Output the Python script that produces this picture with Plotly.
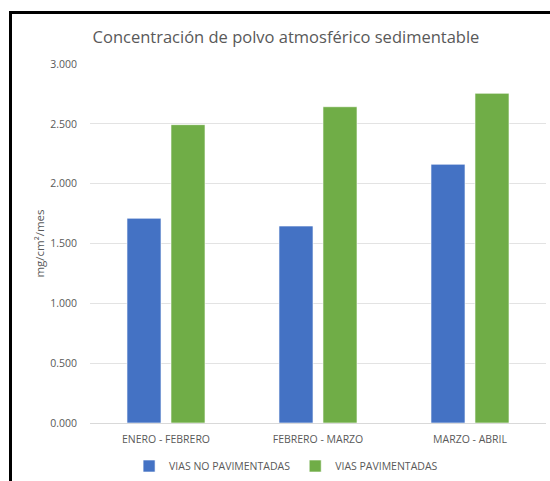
import plotly.graph_objects as go

# Periods sampled and dust concentration (mg/cm²/mes) per road type
periodos = ["ENERO - FEBRERO", "FEBRERO - MARZO", "MARZO - ABRIL"]
vias_no_pavimentadas = [1.711, 1.646, 2.162]
vias_pavimentadas = [2.493, 2.643, 2.755]
ticks_y = [0, 0.5, 1.0, 1.5, 2.0, 2.5, 3.0]

FONT = "Open Sans"
GREY = "#595959"

# Plot-area geometry in pixels (used for the frame lines in paper units)
L, R, T, B = 90, 4, 64, 58
W, H = 550, 481
PW, PH = W - L - R, H - T - B


def px_x(x):
    return (x - L) / PW


def px_y(y):
    return (H - B - y) / PH


fig = go.Figure()
fig.add_trace(go.Bar(
    x=periodos, y=vias_no_pavimentadas, name="VIAS NO PAVIMENTADAS",
    marker=dict(color="#4472C4", line=dict(color="rgba(255,255,255,0.6)", width=1)),
))
fig.add_trace(go.Bar(
    x=periodos, y=vias_pavimentadas, name="VIAS PAVIMENTADAS",
    marker=dict(color="#70AD47", line=dict(color="rgba(255,255,255,0.6)", width=1)),
))

fig.update_layout(
    width=W, height=H,
    margin=dict(l=L, r=R, t=T, b=B, autoexpand=False),
    paper_bgcolor="white", plot_bgcolor="white",
    barmode="group", bargap=0.421, bargroupgap=0.227,
    font=dict(family=FONT, color=GREY, size=11),
    title=dict(
        text="Concentración de polvo atmosférico sedimentable",
        x=0.52, xanchor="center", y=0.922, yanchor="middle",
        font=dict(family=FONT, size=16.5, color=GREY),
    ),
    legend=dict(
        orientation="h", x=0.43, xanchor="center",
        y=px_y(466), yanchor="middle",
        font=dict(family=FONT, size=10.5, color=GREY),
        itemwidth=30, traceorder="normal",
    ),
    showlegend=True,
)

fig.update_yaxes(
    range=[0, 3.0], tickvals=ticks_y, tickformat=".3f",
    showgrid=True, gridcolor="#E3E3E3", gridwidth=1,
    zeroline=False, showline=False, ticks="", ticklabelstandoff=12,
    tickfont=dict(family=FONT, size=10.5, color=GREY),
    title=dict(text="mg/cm²/mes", standoff=3, font=dict(family=FONT, size=11.5, color=GREY)),
    automargin=False,
)
fig.update_xaxes(
    showline=True, linecolor="#D9D9D9", linewidth=1, ticks="",
    tickfont=dict(family=FONT, size=10.5, color=GREY), ticklabelstandoff=6,
    automargin=False,
)

# Black frame along the top and left edges
fig.add_shape(type="line", xref="paper", yref="paper",
              x0=px_x(9), x1=px_x(552), y0=px_y(12.5), y1=px_y(12.5),
              line=dict(color="black", width=3))
fig.add_shape(type="line", xref="paper", yref="paper",
              x0=px_x(10.5), x1=px_x(10.5), y0=px_y(11), y1=px_y(490),
              line=dict(color="black", width=3))

fig.write_html("out.html")
